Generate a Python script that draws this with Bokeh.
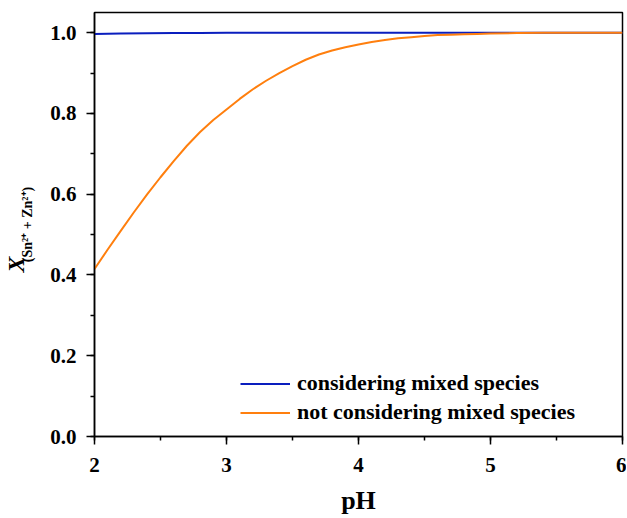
from bokeh.plotting import figure
from bokeh.models import (Range1d, SingleIntervalTicker, Legend, LegendItem, Title,
                          CustomJSTickFormatter)
from bokeh.embed import file_html
from bokeh.resources import INLINE

# ---- data ----
ph_mixed = [2.0, 2.2, 2.4, 2.6, 2.8, 3.0, 3.5, 4.0, 5.0, 6.0]
x_mixed = [0.997, 0.998, 0.9985, 0.999, 0.9995, 0.9998, 1.0, 1.0, 1.0, 1.0]

ph_nomix = [2.0, 2.1, 2.2, 2.3, 2.4, 2.5, 2.6, 2.7, 2.8, 2.9, 3.0, 3.1, 3.2, 3.3,
            3.4, 3.5, 3.6, 3.7, 3.8, 3.9, 4.0, 4.1, 4.2, 4.3, 4.4, 4.5, 4.6,
            4.7, 4.8, 4.9, 5.0, 5.2, 5.4, 5.6, 6.0]
x_nomix = [0.415, 0.463, 0.510, 0.556, 0.600, 0.642, 0.682, 0.720, 0.754, 0.784,
           0.810, 0.836, 0.860, 0.881, 0.900, 0.917, 0.933, 0.946, 0.956, 0.964,
           0.971, 0.977, 0.982, 0.986, 0.989, 0.992, 0.994, 0.995, 0.996, 0.997,
           0.998, 0.999, 1.0, 1.0, 1.0]

series_labels = ["considering mixed species", "not considering mixed species"]
x_title = "pH"
y_symbol = "X"
y_subscript = "(Sn\u00b2\u207a + Zn\u00b2\u207a)"

FONT = "Liberation Serif"

p = figure(frame_width=528, frame_height=424, output_backend="svg",
           toolbar_location=None, x_range=Range1d(2, 6), y_range=Range1d(0, 1.05),
           min_border_left=94, min_border_top=12, min_border_right=4,
           min_border_bottom=80)
p.grid.visible = False
p.outline_line_color = "black"
p.outline_line_width = 1.5
p.background_fill_color = "white"
p.border_fill_color = "white"

r1 = p.line(ph_mixed, x_mixed, line_color="#0a1ebe", line_width=2)
r2 = p.line(ph_nomix, x_nomix, line_color="#ff7f0e", line_width=2)

p.xaxis.ticker = SingleIntervalTicker(interval=1, num_minor_ticks=2)
p.yaxis.ticker = SingleIntervalTicker(interval=0.2, num_minor_ticks=2)
p.yaxis.formatter = CustomJSTickFormatter(code="return tick.toFixed(1);")

for ax in (p.xaxis, p.yaxis):
    ax.axis_line_width = 1.5
    ax.axis_line_color = "black"
    ax.major_tick_line_color = "black"
    ax.minor_tick_line_color = "black"
    ax.major_tick_line_width = 1.5
    ax.minor_tick_line_width = 1.5
    ax.major_tick_out = 8
    ax.major_tick_in = 0
    ax.minor_tick_out = 4
    ax.minor_tick_in = 0
    ax.major_label_text_font = FONT
    ax.major_label_text_font_style = "bold"
    ax.major_label_text_font_size = "21px"
    ax.major_label_text_color = "black"

p.xaxis.major_label_standoff = 13
p.yaxis.major_label_standoff = 10

p.xaxis.axis_label = x_title
p.xaxis.axis_label_text_font = FONT
p.xaxis.axis_label_text_font_style = "bold"
p.xaxis.axis_label_text_font_size = "26px"
p.xaxis.axis_label_text_color = "black"
p.xaxis.axis_label_standoff = 11

# y-axis title: subscript part as the axis label, the symbol as a side title
p.yaxis.axis_label = y_subscript
p.yaxis.axis_label_text_font = FONT
p.yaxis.axis_label_text_font_style = "bold"
p.yaxis.axis_label_text_font_size = "14px"
p.yaxis.axis_label_text_color = "black"
p.yaxis.axis_label_standoff = 12

t = Title(text=y_symbol, align="left", offset=164, text_font=FONT,
          text_font_style="bold italic", text_font_size="24px", text_color="black",
          vertical_align="bottom")
try:
    t.standoff = -22
except ValueError:
    t.standoff = 0
p.add_layout(t, "left")

legend = Legend(items=[LegendItem(label=series_labels[0], renderers=[r1]),
                       LegendItem(label=series_labels[1], renderers=[r2])],
                location=(146, 11), padding=0, margin=0, spacing=3,
                glyph_width=50, glyph_height=25, label_height=25, label_standoff=7,
                label_text_font=FONT, label_text_font_style="bold",
                label_text_font_size="22px", label_text_color="black",
                border_line_alpha=0, background_fill_alpha=0)
p.add_layout(legend)

open("out.html", "w").write(file_html(p, INLINE))
